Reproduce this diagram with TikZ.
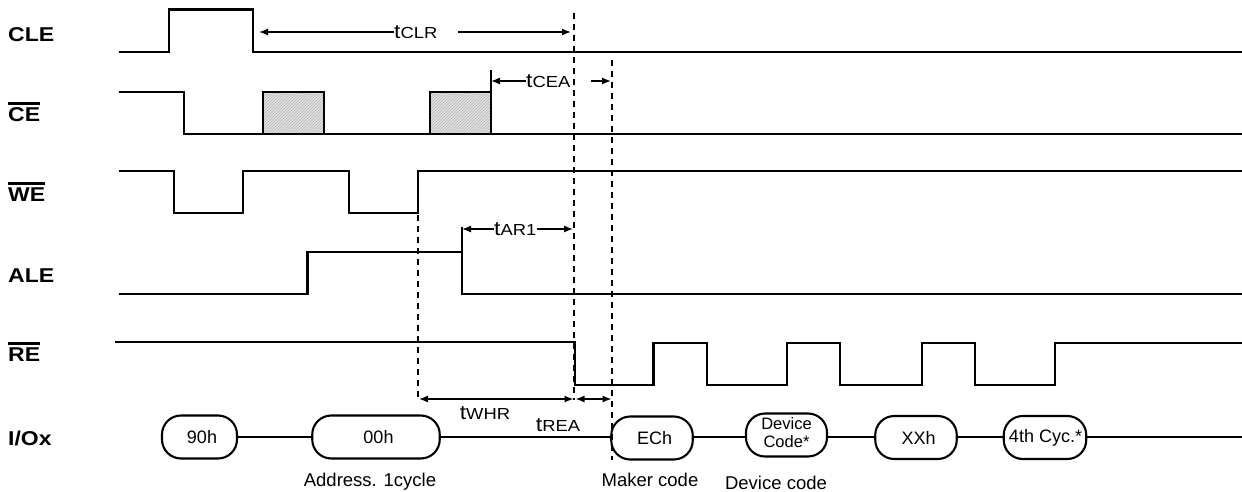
\documentclass[tikz,border=0pt]{standalone}
\usepackage{fontspec}
\setmainfont{Liberation Sans}
\newfontfamily\widefont{Liberation Sans}[FakeStretch=1.15]
\newfontfamily\tfont{Liberation Sans}[FakeStretch=1.15]
\usetikzlibrary{arrows.meta,patterns}
\tikzset{
  sig/.style={line width=2.8pt},
  bus/.style={line width=2.4pt},
  dim/.style={line width=1.3pt},
  tip/.tip={Latex[length=9pt,width=7pt]},
  vdash/.style={line width=1.1pt, dash pattern=on 6pt off 5pt},
  lbl/.style={font=\widefont\bfseries\fontsize{20}{22}\selectfont, anchor=west, inner sep=0pt},
  tlbl/.style={inner sep=0pt},
  bub/.style={draw, line width=2.1pt, rounded corners=19pt, minimum height=43pt, inner sep=0pt, font=\fontsize{18}{19}\selectfont},
  note/.style={font=\fontsize{18.5}{20}\selectfont, inner sep=0pt}
}
\newcommand{\bx}[1]{\makebox[0pt][c]{\hspace{5pt}#1}}
\newcommand{\tsym}[1]{{\tfont\fontsize{20}{20}\selectfont t}{\tfont\fontsize{16}{16}\selectfont #1}}
\begin{document}
\begin{tikzpicture}[x=1pt,y=-1pt]
\useasboundingbox (0,0) rectangle (1242,492);
% signal labels
\node[lbl] (lcle) at (8,35) {CLE};
\node[lbl] (lce) at (8,115) {CE};
\node[lbl] (lwe) at (8,195) {WE};
\node[lbl] (lale) at (8,276) {ALE};
\node[lbl] (lre) at (8,355) {RE};
\node[lbl] (lio) at (8,438) {I/Ox};
\draw[line width=2.8pt] ([yshift=4.5pt]lce.north west) -- ([yshift=4.5pt]lce.north east);
\draw[line width=2.8pt] ([yshift=4.5pt]lwe.north west) -- ([yshift=4.5pt]lwe.north east);
\draw[line width=2.8pt] ([yshift=4.5pt]lre.north west) -- ([yshift=4.5pt]lre.north east);
% CE hatched windows
\foreach \a/\b in {263/324, 430/491}{
  \fill[gray!22] (\a,134) rectangle (\b,92);
  \fill[pattern=north east lines, pattern color=gray!60] (\a,134) rectangle (\b,92);
  \draw[sig] (\a,134) -- (\a,92) -- (\b,92) -- (\b,134);
}
% waveforms
\draw[sig] (118.6,52) -- (169,52) -- (169,9.5) -- (253,9.5) -- (253,52) -- (1242,52);
\draw[sig] (118.6,92) -- (184,92) -- (184,134) -- (1242,134);
\draw[sig] (118.6,171) -- (174,171) -- (174,213) -- (243,213) -- (243,171) -- (349,171) -- (349,213) -- (418,213) -- (418,171) -- (1242,171);
\draw[sig] (118.6,294) -- (307.5,294) -- (307.5,252) -- (462,252) -- (462,294) -- (1242,294);
\draw[sig] (114.6,342) -- (575,342) -- (575,385) -- (653.5,385) -- (653.5,343) -- (707,343) -- (707,385) -- (787,385) -- (787,343) -- (840,343) -- (840,385) -- (922,385) -- (922,343) -- (975,343) -- (975,385) -- (1055,385) -- (1055,343) -- (1242,343);
% dashed reference lines
\coordinate (d1t) at (574,13);  \coordinate (d1b) at (574,400);
\coordinate (d2t) at (612,60);  \coordinate (d2b) at (612,460);
\coordinate (d3t) at (418,215); \coordinate (d3b) at (418,400);
\draw[vdash] (d1t) -- (d1b);
\draw[vdash] (d2t) -- (d2b);
\draw[vdash] (d3t) -- (d3b);
% tCLR
\node[tlbl, anchor=west] (tclr) at (394,32) {\tsym{CLR}};
\coordinate (clrL) at (259,32); \coordinate (clrR) at (571,32); \coordinate (clrM) at (458,32);
\draw[dim, {tip}-] (clrL) -- (tclr.west);
\draw[dim, -{tip}] (clrM) -- (clrR);
% tCEA
\node[tlbl, anchor=west] (tcea) at (526,81) {\tsym{CEA}};
\coordinate (ceaT) at (491,70); \coordinate (ceaB) at (491,92); \coordinate (ceaL) at (491,81);
\coordinate (ceaM) at (591,81); \coordinate (ceaR) at (611,81);
\draw[dim] (ceaB) -- (ceaT);
\draw[dim, {tip}-] (ceaL) -- (tcea.west);
\draw[dim, -{tip}] (ceaM) -- (ceaR);
% tAR1
\node[tlbl, anchor=west] (tar) at (494,229) {\tsym{AR1}};
\coordinate (arT) at (462,227); \coordinate (arB) at (462,252); \coordinate (arL) at (462,229);
\coordinate (arR) at (573,229);
\draw[dim] (arB) -- (arT);
\draw[dim, {tip}-] (arL) -- (tar.west);
\draw[dim, -{tip}] (tar.east) -- (arR);
% tWHR, tREA
\coordinate (whrL) at (419,399); \coordinate (whrR) at (573.5,399);
\coordinate (reaL) at (575.5,399); \coordinate (reaR) at (611.5,399);
\draw[dim, {tip}-{tip}] (whrL) -- (whrR);
\draw[dim, {tip}-{tip}] (reaL) -- (reaR);
\node[tlbl] (twhr) at (485,413) {\tsym{WHR}};
\node[tlbl] (trea) at (558,425) {\tsym{REA}};
% I/O bus
\node[bub, minimum width=75pt] (b90) at (199.5,437) {\bx{90h}};
\node[bub, minimum width=127.5pt] (b00) at (376,437) {\bx{00h}};
\node[bub, minimum width=81.5pt] (bec) at (652,438) {\bx{ECh}};
\node[bub, minimum width=81pt, font=\fontsize{16.5}{18.5}\selectfont] (bdc) at (786.5,435) {\makebox[0pt][c]{\begin{tabular}{@{}c@{}}Device\\[-1pt]Code*\end{tabular}}};
\node[bub, minimum width=81.5pt] (bxx) at (916,437.5) {\bx{XXh}};
\node[bub, minimum width=82.5pt] (b4c) at (1045,437.5) {\makebox[0pt][c]{\hspace{1pt}4th Cyc.*}};
\coordinate (ioend) at (1242,437);
\draw[bus] (b90.east) -- (b00.west);
\draw[bus] (b00.east) -- (b00.east -| bec.west);
\draw[bus] (bec.east |- b00.east) -- (b00.east -| bdc.west);
\draw[bus] (bdc.east |- b00.east) -- (b00.east -| bxx.west);
\draw[bus] (bxx.east |- b00.east) -- (b00.east -| b4c.west);
\draw[bus] (b4c.east |- b00.east) -- (ioend);
% notes
\node[note] (naddr) at (370,482) {Address. 1cycle};
\node[note] (nmak) at (650,480) {Maker code};
\node[note] (ndev) at (776,483) {Device code};
\end{tikzpicture}
\end{document}
